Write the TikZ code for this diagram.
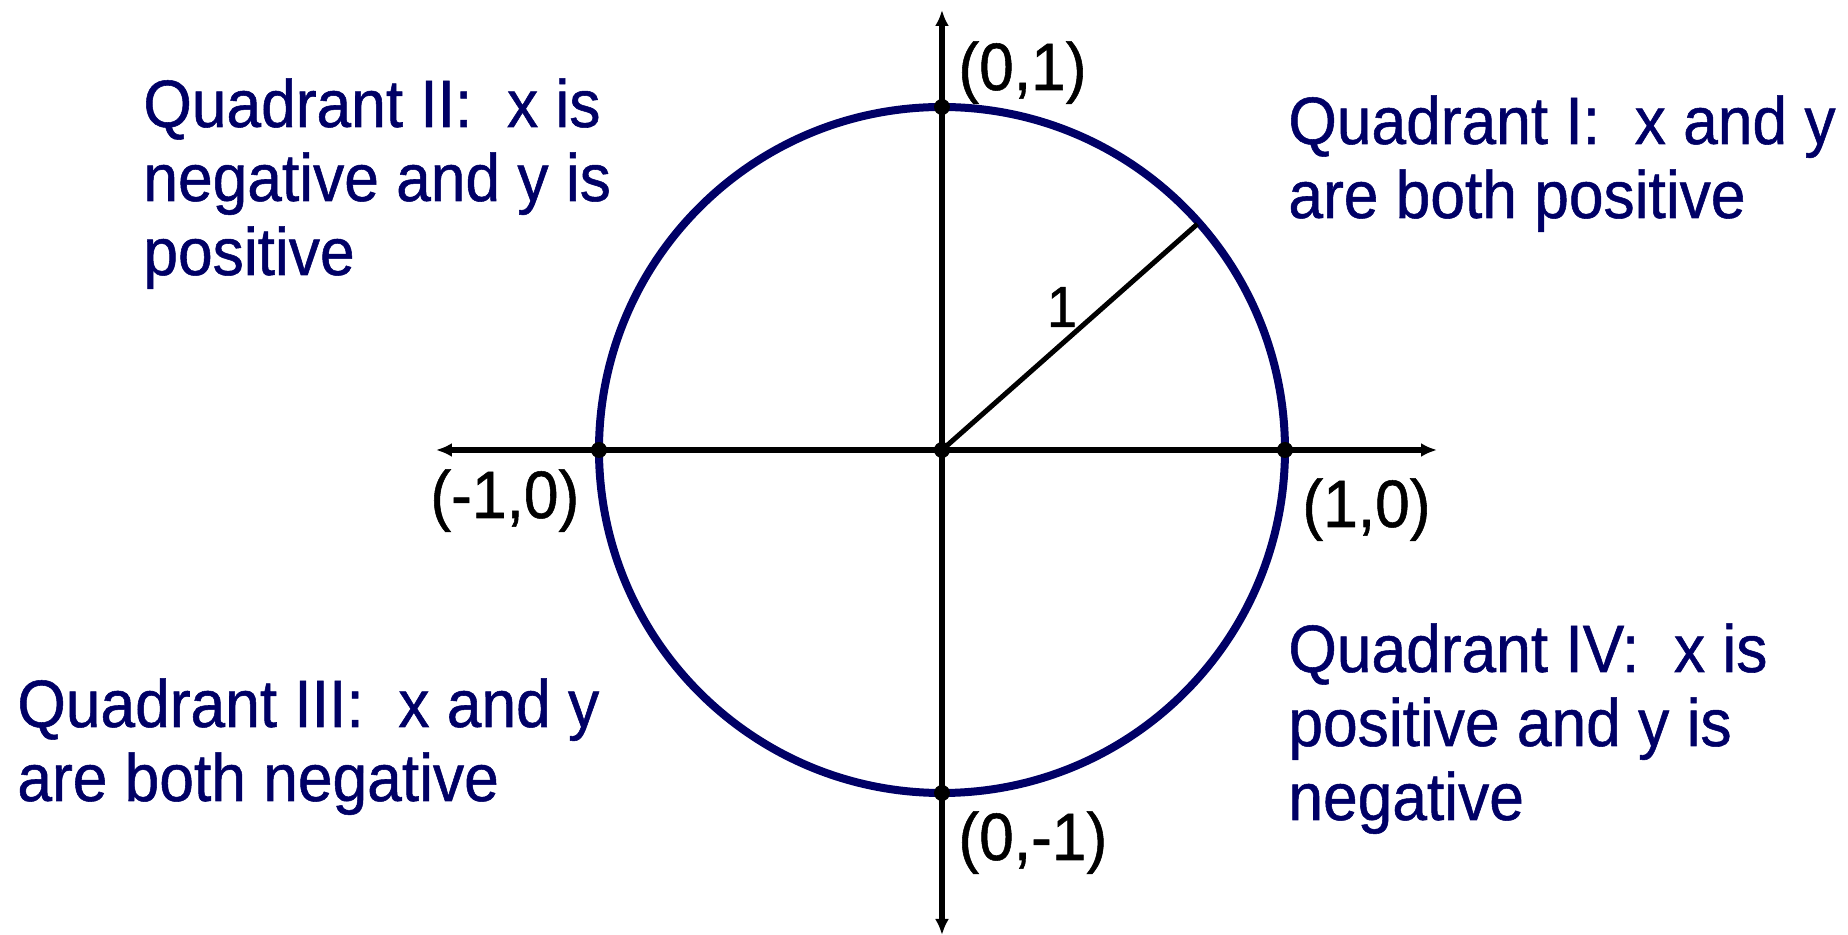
\documentclass[tikz,border=0pt]{standalone}
\usepackage{fontspec}
\setmainfont{Liberation Sans}[FakeStretch=0.93,FakeBold=0.8]
\usetikzlibrary{arrows.meta}
\definecolor{navy}{RGB}{0,0,102}
\tikzset{
	>={Latex[length=8pt,width=7pt]},
}

\begin{document}
\begin{tikzpicture}[
    x=0.5pt,
    y=0.5pt,
    axis/.style={draw, line width=2.7pt, <->},
    unit/.style={draw=navy, line width=4pt},
    dot/.style={circle, fill, inner sep=0pt, minimum size=8pt},
    lbl/.style={anchor=base west, inner sep=0pt, font=\fontsize{33.5pt}{37pt}\selectfont},
    quad/.style={anchor=base west, inner sep=0pt, align=left, text=navy,
                 font=\fontsize{33.5pt}{37pt}\selectfont}
]
\useasboundingbox (-942,-485) rectangle (906,450);

% --- Unit circle ---
\draw[unit] (0,0) circle (343);

% --- Axes ---
\coordinate (xl) at (-506,0);
\coordinate (xr) at (495,0);
\coordinate (yt) at (0,440);
\coordinate (yb) at (0,-485);
\draw[axis] (xl) -- (xr);
\draw[axis] (yt) -- (yb);

% --- Points ---
\node[dot] (O) at (0,0) {};
\node[dot] (E) at (343,0) {};
\node[dot] (W) at (-343,0) {};
\node[dot] (N) at (0,343) {};
\node[dot] (S) at (0,-343) {};

% --- Radius ---
\coordinate (rim) at (41.5:341);
\draw[line width=2.5pt] (O.center) -- (rim);
\node[lbl, font=\fontsize{29pt}{31pt}\selectfont, anchor=base] (one) at (120,123) {1};

% --- Point labels ---
\node[lbl] (lN) at (16,360) {(0,1)};
\node[lbl] (lW) at (-512,-68) {(-1,0)};
\node[lbl] (lE) at (360,-77) {(1,0)};
\node[lbl] (lS) at (16,-410) {(0,-1)};

% --- Quadrants (base = last line) ---
\node[quad] (q2) at (-799,175) {Quadrant II:~~x is\\negative and y is\\positive};
\node[quad] (q1) at (346,232) {Quadrant I:~~x and y\\are both positive};
\node[quad] (q3) at (-925,-351) {Quadrant III:~~x and y\\are both negative};
\node[quad] (q4) at (346,-370) {Quadrant IV:~~x is\\positive and y is\\negative};
\end{tikzpicture}
\end{document}
